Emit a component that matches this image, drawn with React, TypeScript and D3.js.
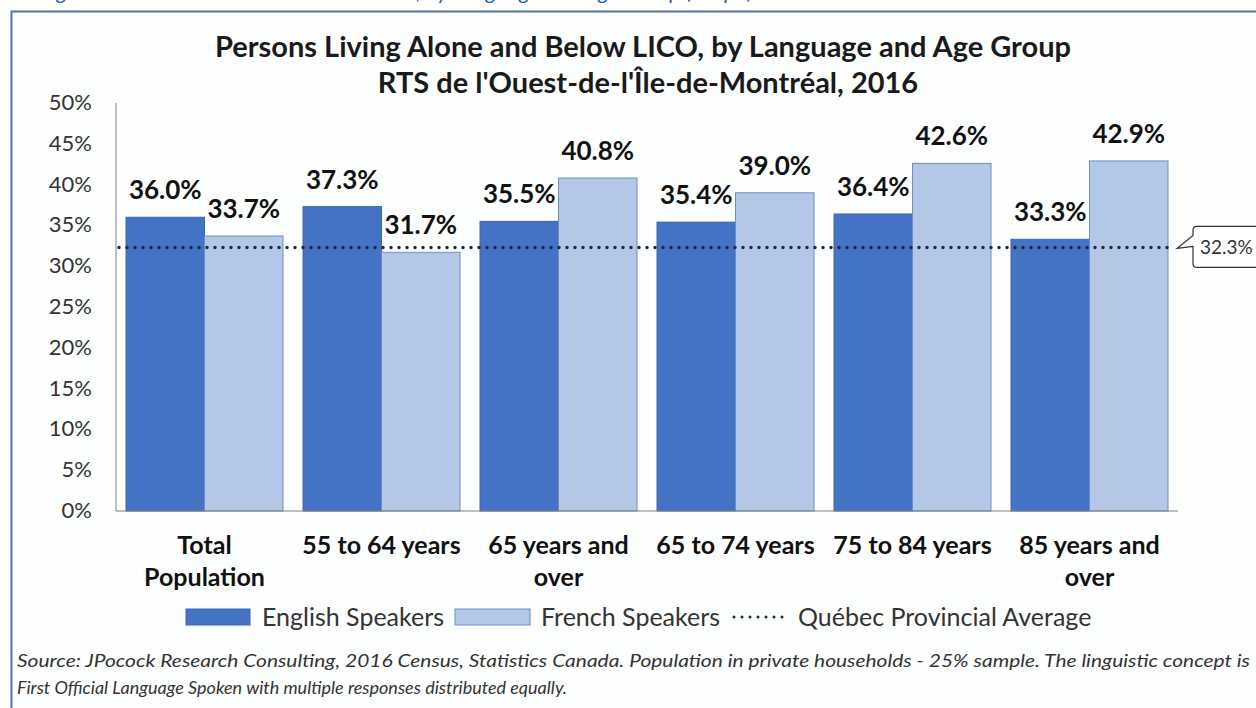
import * as d3 from "d3";

// chart data
const categories = [
  ["Total", "Population"],
  ["55 to 64 years"],
  ["65 years and", "over"],
  ["65 to 74 years"],
  ["75 to 84 years"],
  ["85 years and", "over"],
];
const englishSpeakers = [36.0, 37.3, 35.5, 35.4, 36.4, 33.3];
const frenchSpeakers = [33.7, 31.7, 40.8, 39.0, 42.6, 42.9];
const quebecAverage = 32.3;
const yTicks = [0, 5, 10, 15, 20, 25, 30, 35, 40, 45, 50];
const seriesKeys = ["English Speakers", "French Speakers"];

const FONT = "Lato, 'Open Sans', sans-serif";
const EN_COLOR = "#4472c4";
const FR_COLOR = "#b4c7e7";

export default function App() {
  const width = 1256;
  const height = 708;
  const plot = { left: 116, right: 1178, top: 103, bottom: 511 };

  const y = d3.scaleLinear().domain([0, 50]).range([plot.bottom, plot.top]);
  const x = d3
    .scaleBand<number>()
    .domain(d3.range(categories.length))
    .range([plot.left, plot.right])
    .paddingInner(0.113)
    .paddingOuter(0.0565);
  const xSub = d3
    .scaleBand<string>()
    .domain(seriesKeys)
    .range([0, x.bandwidth()]);

  const series = [
    { key: seriesKeys[0], values: englishSpeakers, fill: EN_COLOR, stroke: "#3f66ad" },
    { key: seriesKeys[1], values: frenchSpeakers, fill: FR_COLOR, stroke: "#6f8cc4" },
  ];

  const avgY = y(quebecAverage);
  const bx = 1193; // callout box left edge
  const callout = [
    `M${plot.right - 1},${avgY + 1}`,
    `L${bx},${avgY - 12}`,
    `L${bx},${avgY - 17}`,
    `Q${bx},${avgY - 21} ${bx + 4},${avgY - 21}`,
    `L${width + 10},${avgY - 21}`,
    `L${width + 10},${avgY + 20}`,
    `L${bx + 4},${avgY + 20}`,
    `Q${bx},${avgY + 20} ${bx},${avgY + 16}`,
    `L${bx},${avgY - 1}`,
    `Z`,
  ].join(" ");

  return (
    <svg
      width={width}
      height={height}
      style={{ position: "absolute", left: 0, top: 0, display: "block", background: "#fff" }}
      fontFamily={FONT}
    >
      {/* cropped caption above the frame */}
      <text x={40} y={-1} fontSize={22} fontStyle="italic" fill="#2e5eaa">
        Figure 12: Persons Alone and Below LICO, by Language and Age Group (Graph)
      </text>
      <rect x={11.5} y={11.5} width={width + 20} height={height + 20} fill="#fdfefe" stroke="#5b7393" strokeWidth={2} />

      {/* title */}
      <text x={643} y={57} textAnchor="middle" fontSize={29} fontWeight="bold" fill="#1a1a1a">
        Persons Living Alone and Below LICO, by Language and Age Group
      </text>
      <text x={648} y={93} textAnchor="middle" fontSize={29} fontWeight="bold" fill="#1a1a1a">
        RTS de l'Ouest-de-l'Île-de-Montréal, 2016
      </text>

      {/* y axis */}
      {yTicks.map((t) => (
        <text key={t} x={92} y={y(t) + 7} textAnchor="end" fontSize={22} fill="#333">
          {t}%
        </text>
      ))}

      {/* bars */}
      {categories.map((_, i) => (
        <g key={i} transform={`translate(${x(i)},0)`}>
          {series.map((s) => (
            <rect
              key={s.key}
              x={xSub(s.key)}
              y={y(s.values[i])}
              width={xSub.bandwidth()}
              height={y(0) - y(s.values[i])}
              fill={s.fill}
              stroke={s.stroke}
              strokeWidth={1}
            />
          ))}
          {series.map((s) => (
            <text
              key={s.key + "-label"}
              x={(xSub(s.key) || 0) + xSub.bandwidth() / 2}
              y={y(s.values[i]) - 18}
              textAnchor="middle"
              fontSize={26}
              fontWeight="bold"
              fill="#111"
            >
              {s.values[i].toFixed(1)}%
            </text>
          ))}
        </g>
      ))}

      <line x1={plot.left} x2={plot.left} y1={plot.top} y2={plot.bottom} stroke="#808080" />
      <line x1={plot.left} x2={plot.right} y1={plot.bottom} y2={plot.bottom} stroke="#808080" />

      {/* Quebec average line */}
      <line
        x1={plot.left + 3}
        x2={plot.right - 4}
        y1={avgY}
        y2={avgY}
        stroke="#1b2a4a"
        strokeWidth={3.5}
        strokeLinecap="round"
        strokeDasharray="0 8"
      />
      <path d={callout} fill="#fff" stroke="#333" strokeWidth={1.2} />
      <text x={1200} y={avgY + 7} fontSize={19} fill="#333">
        {quebecAverage.toFixed(1)}%
      </text>

      {/* category labels */}
      {categories.map((lines, i) =>
        lines.map((ln, j) => (
          <text
            key={i + "-" + j}
            x={(x(i) || 0) + x.bandwidth() / 2}
            y={554 + j * 32}
            textAnchor="middle"
            fontSize={25}
            fontWeight="bold"
            fill="#111"
          >
            {ln}
          </text>
        ))
      )}

      {/* legend */}
      <rect x={186} y={609} width={64} height={16} fill={EN_COLOR} stroke="#3f66ad" />
      <text x={262} y={626} fontSize={25} fill="#333">English Speakers</text>
      <rect x={455} y={609} width={75} height={16} fill={FR_COLOR} stroke="#6f8cc4" />
      <text x={541} y={626} fontSize={25} fill="#333">French Speakers</text>
      <line x1={734} x2={784} y1={617} y2={617} stroke="#1b2a4a" strokeWidth={3} strokeLinecap="round" strokeDasharray="0 8" />
      <text x={798} y={626} fontSize={25} fill="#333">Québec Provincial Average</text>

      {/* source note */}
      <text x={17} y={667} fontSize={18} fontStyle="italic" fill="#333" textLength={1233} lengthAdjust="spacingAndGlyphs">
        Source: JPocock Research Consulting, 2016 Census, Statistics Canada. Population in private households - 25% sample. The linguistic concept is
      </text>
      <text x={17} y={694} fontSize={18} fontStyle="italic" fill="#333">
        First Official Language Spoken with multiple responses distributed equally.
      </text>
    </svg>
  );
}
